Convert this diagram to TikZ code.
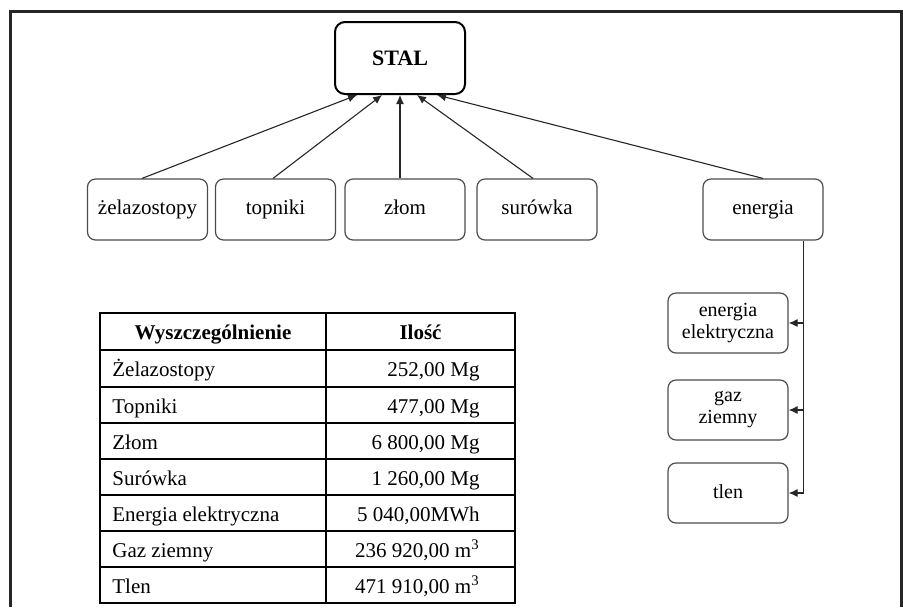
\documentclass[tikz,border=0pt]{standalone}
\usepackage{fontspec}
\setmainfont{Liberation Serif}
\usetikzlibrary{arrows.meta}

\begin{document}
\begin{tikzpicture}[x=0.5pt,y=-0.5pt,every node/.style={align=center,font=\fontsize{10.5}{12}\selectfont},
	stalbox/.style={draw,line width=1pt,rounded corners=5pt,minimum width=65pt,minimum height=36pt,font=\fontsize{11}{13}\selectfont\bfseries},
	boxbase/.style={draw=black!70,line width=0.6pt,rounded corners=4pt,minimum width=60pt},
	inbox/.style={boxbase,minimum height=30.5pt,text height=7pt,text depth=2pt},
	subbox/.style={boxbase,minimum height=30pt,font=\fontsize{10}{11}\selectfont},
	feedline/.style={draw=black!85,line width=0.55pt,-{Latex[length=4.5pt,width=4pt]}},
	tabcell/.style={inner sep=0pt}, tabline/.style={line width=0.6pt}]
	\useasboundingbox (0,0) rectangle (903,607);
	\draw[line width=1.5pt,black!85] (10,607) -- (10,11.5) -- (901,11.5) -- (901,607);
	\node[stalbox] (stal) at (400,58) {STAL};
	\node[inbox] (zel) at (147.5,209.5) {żelazostopy};
	\node[inbox] (top) at (275.5,209.5) {topniki};
	\node[inbox] (zlom) at (405,209.5) {złom};
	\node[inbox] (sur) at (537,209.5) {surówka};
	\node[inbox] (en) at (763,209.5) {energia};
	\node[subbox] (ee) at (728,323) {energia \\ elektryczna};
	\node[subbox] (gas) at (728,410) {gaz \\ ziemny};
	\node[subbox,text height=7pt,text depth=2pt] (tlen) at (728,493) {tlen};
	% inputs of stal
	\draw[feedline] ([xshift=-2.75pt]zel.north) -- ([xshift=-21.5pt]stal.south);
	\draw[feedline] ([xshift=-1.25pt]top.north) -- ([xshift=-9pt]stal.south);
	\draw[feedline] ([xshift=-2.5pt]zlom.north) -- (stal.south);
	\draw[feedline] ([xshift=-2pt]sur.north) -- ([xshift=8.5pt]stal.south);
	\draw[feedline] (en.north) -- ([xshift=18.5pt]stal.south);
	% energia
	\coordinate (trunk) at ([xshift=-10pt]en.south east);
	\draw[feedline] (trunk) |- (tlen.east);
	\draw[feedline] (trunk |- ee.east) -- (ee.east);
	\draw[feedline] (trunk |- gas.east) -- (gas.east);
	% table
	\draw[tabline] (100,313) rectangle (515,603);
	\draw[tabline] (326,313) -- (326,603);
	\draw[tabline] (100,350) -- (515,350);
	\draw[tabline] (100,387) -- (515,387);
	\draw[tabline] (100,423) -- (515,423);
	\draw[tabline] (100,459) -- (515,459);
	\draw[tabline] (100,495) -- (515,495);
	\draw[tabline] (100,531) -- (515,531);
	\draw[tabline] (100,567) -- (515,567);
	\node[tabcell,anchor=base] (hname) at (213,339) {\bfseries Wyszczególnienie};
	\node[tabcell,anchor=base] (hqty) at (420.5,339) {\bfseries Ilość};
	\node[tabcell,anchor=base west] (n1) at (112,376) {Żelazostopy};
	\node[tabcell,anchor=base east] (q1) at (480,376) {252,00 Mg};
	\node[tabcell,anchor=base west] (n2) at (112,413) {Topniki};
	\node[tabcell,anchor=base east] (q2) at (480,413) {477,00 Mg};
	\node[tabcell,anchor=base west] (n3) at (112,449) {Złom};
	\node[tabcell,anchor=base east] (q3) at (480,449) {6 800,00 Mg};
	\node[tabcell,anchor=base west] (n4) at (112,485) {Surówka};
	\node[tabcell,anchor=base east] (q4) at (480,485) {1 260,00 Mg};
	\node[tabcell,anchor=base west] (n5) at (112,521) {Energia elektryczna};
	\node[tabcell,anchor=base east] (q5) at (480,521) {5 040,00MWh};
	\node[tabcell,anchor=base west] (n6) at (112,557) {Gaz ziemny};
	\node[tabcell,anchor=base east] (q6) at (480,557) {236 920,00 m\textsuperscript{3}};
	\node[tabcell,anchor=base west] (n7) at (112,593) {Tlen};
	\node[tabcell,anchor=base east] (q7) at (480,593) {471 910,00 m\textsuperscript{3}};
\end{tikzpicture}
\end{document}
